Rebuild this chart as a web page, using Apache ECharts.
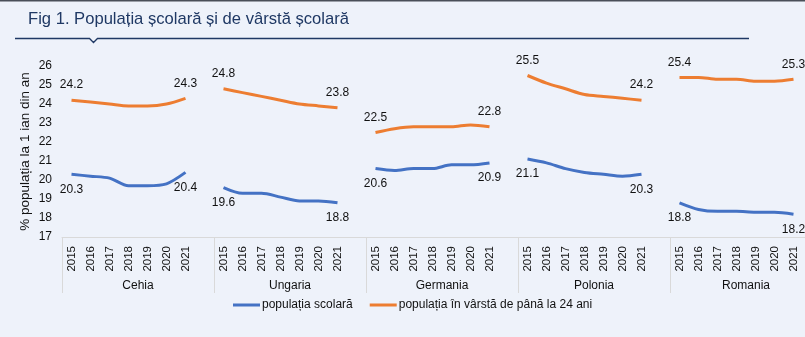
<!DOCTYPE html>
<html>
<head>
<meta charset="utf-8">
<script src="https://cdn.jsdelivr.net/npm/echarts@6/dist/echarts.min.js"></script>
<style>
html,body{margin:0;padding:0;background:#EEF2FA;overflow:hidden;width:805px;height:337px;}
#c{width:830px;height:337px;}
</style>
</head>
<body>
<div id="c"></div>
<script>
const years = ['2015','2016','2017','2018','2019','2020','2021'];
const countries = ['Cehia','Ungaria','Germania','Polonia','Romania'];
const seriesNames = ['populația scolară','populația în vârstă de până la 24 ani'];

// populația scolară
const scolaraCehia    = [20.3, 20.2, 20.1, 19.7, 19.7, 19.8, 20.4];
const scolaraUngaria  = [19.6, 19.3, 19.3, 19.1, 18.9, 18.9, 18.8];
const scolaraGermania = [20.6, 20.5, 20.6, 20.6, 20.8, 20.8, 20.9];
const scolaraPolonia  = [21.1, 20.9, 20.6, 20.4, 20.3, 20.2, 20.3];
const scolaraRomania  = [18.8, 18.45, 18.35, 18.35, 18.3, 18.3, 18.2];

// populația în vârstă de până la 24 ani
const varstaCehia    = [24.2, 24.1, 24.0, 23.9, 23.9, 24.0, 24.3];
const varstaUngaria  = [24.8, 24.6, 24.4, 24.2, 24.0, 23.9, 23.8];
const varstaGermania = [22.5, 22.7, 22.8, 22.8, 22.8, 22.9, 22.8];
const varstaPolonia  = [25.5, 25.1, 24.8, 24.5, 24.4, 24.3, 24.2];
const varstaRomania  = [25.4, 25.4, 25.3, 25.3, 25.2, 25.2, 25.3];

const scolara = [scolaraCehia, scolaraUngaria, scolaraGermania, scolaraPolonia, scolaraRomania];
const varsta  = [varstaCehia, varstaUngaria, varstaGermania, varstaPolonia, varstaRomania];

// build slots: 7 years + 1 empty slot per country
const cats = [];
countries.forEach(() => { years.forEach(y => cats.push(y)); cats.push(''); });

function build(groups) {
  const out = [];
  groups.forEach(g => {
    g.forEach((v, i) => {
      const edge = (i === 0 || i === g.length - 1);
      out.push({ value: v, label: { show: edge } });
    });
    out.push(null);
  });
  return out;
}

const FONT = 'Liberation Sans, Arial, sans-serif';
const chart = echarts.init(document.getElementById('c'), null, {renderer: 'canvas'});
chart.setOption({
  backgroundColor: '#EEF2FA',
  animation: false,
  textStyle: { fontFamily: FONT },
  graphic: [
    { type: 'rect', shape: { x: 0, y: 0, width: 830, height: 1.5 }, style: { fill: '#4a4f58' } },
    { type: 'text', left: 28, top: 11, style: { text: 'Fig 1. Populația școlară și de vârstă școlară', font: '16.6px ' + FONT, fill: '#1F3864' } },
    { type: 'polyline', shape: { points: [[15, 38.5], [89.5, 38.5], [93.5, 42.5], [97.5, 38.5], [749, 38.5]] },
      style: { stroke: '#1F3864', lineWidth: 1.3, fill: null } }
  ],
  legend: {
    left: 233, top: 299, padding: 0,
    icon: 'rect', itemWidth: 27, itemHeight: 3, itemGap: 17,
    textStyle: { fontSize: 12, color: '#111', fontFamily: FONT, padding: [0, 0, 0, -3] },
    data: seriesNames
  },
  grid: { left: 62, top: 66, width: 760, height: 171 },
  xAxis: [
    {
      type: 'category', data: cats, boundaryGap: true,
      axisLine: { show: true, lineStyle: { color: '#D9D9D9', width: 1 } },
      axisTick: { show: false },
      axisLabel: { interval: 0, rotate: 90, margin: 9, fontSize: 11.5, color: '#111', fontFamily: FONT }
    },
    {
      type: 'category', data: countries, boundaryGap: true, position: 'bottom',
      axisLine: { show: false },
      axisTick: { show: true, length: 56, lineStyle: { color: '#D9D9D9', width: 1 } },
      axisLabel: { interval: 0, margin: 43, fontSize: 12, color: '#111', fontFamily: FONT }
    }
  ],
  yAxis: {
    type: 'value', min: 17, max: 26, interval: 1,
    axisLine: { show: false }, axisTick: { show: false }, splitLine: { show: false },
    axisLabel: { fontSize: 12, color: '#111', margin: 10, fontFamily: FONT },
    name: '% populația la 1 ian din an', nameLocation: 'middle', nameRotate: 90, nameGap: 37,
    nameMoveOverlap: false,
    nameTextStyle: { fontSize: 13.5, color: '#111', fontFamily: FONT, verticalAlign: 'middle' }
  },
  series: [
    {
      name: seriesNames[0], type: 'line', xAxisIndex: 0, data: build(scolara),
      smooth: 0.3, showSymbol: true, showAllSymbol: true, symbol: 'circle', symbolSize: 0.1, connectNulls: false,
      lineStyle: { color: '#4472C4', width: 3 }, itemStyle: { color: '#4472C4' },
      label: { position: 'bottom', distance: 9, fontSize: 12, color: '#111', fontFamily: FONT, formatter: p => p.value.toFixed(1) }
    },
    {
      name: seriesNames[1], type: 'line', xAxisIndex: 0, data: build(varsta),
      smooth: 0.3, showSymbol: true, showAllSymbol: true, symbol: 'circle', symbolSize: 0.1, connectNulls: false,
      lineStyle: { color: '#ED7D31', width: 3 }, itemStyle: { color: '#ED7D31' },
      label: { position: 'top', distance: 9, fontSize: 12, color: '#111', fontFamily: FONT, formatter: p => p.value.toFixed(1) }
    }
  ]
});
</script>
</body>
</html>
